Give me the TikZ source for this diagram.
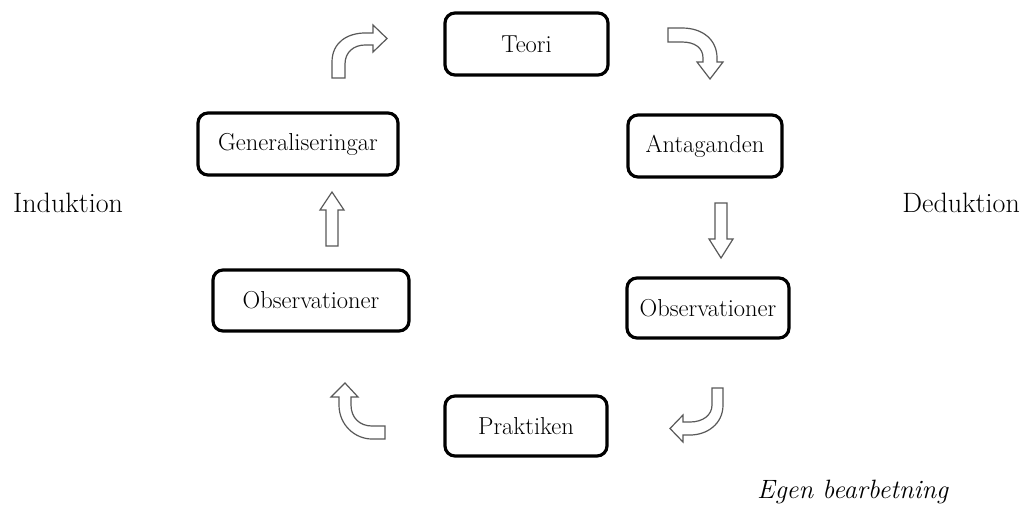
\documentclass[tikz,border=0pt]{standalone}
\begin{document}
\begin{tikzpicture}[x=1pt,y=-1pt,
  box/.style={draw=black, line width=3.2pt, rounded corners=10pt, fill=white,
    font=\fontsize{24.5}{28}\selectfont, inner sep=0pt},
  side/.style={font=\fontsize{28}{32}\selectfont, inner sep=0pt},
  barrow/.style={draw=black!65, line width=1.2pt, fill=white, line join=miter}]
\useasboundingbox (0,0) rectangle (1024,504);
\fill[white] (0,0) rectangle (1024,504);
% boxes
\node[box, minimum width=163pt, minimum height=62pt] (teori) at (526.5,44) {Teori};
\node[box, minimum width=154pt, minimum height=62pt] (antag) at (705,146) {Antaganden};
\node[box, minimum width=200pt, minimum height=62pt] (gen) at (298,144) {Generaliseringar};
\node[box, minimum width=196pt, minimum height=61pt] (obsl) at (311,300.5) {Observationer};
\node[box, minimum width=162pt, minimum height=60pt] (obsr) at (708,308) {Observationer};
\node[box, minimum width=162pt, minimum height=60pt] (prak) at (526,426) {Praktiken};
% side labels
\node[side, anchor=base west] (ind) at (13,212) {Induktion};
\node[side, anchor=base east] (ded) at (1020,212) {Deduktion};
\node[font=\fontsize{26.5}{30}\selectfont\itshape, inner sep=0pt, anchor=base west] (egen) at (757,498) {Egen bearbetning};
% block arrows
% top-left (Generaliseringar -> Teori)
\draw[barrow] (332,78) -- (332,62) .. controls (332,42) and (348,33) .. (365,33) -- (373,33) -- (373,25) -- (387,38.5) -- (373,52) -- (373,45) -- (365,45)
  .. controls (354,45) and (345,52) .. (345,64) -- (345,78) -- cycle;
% top-right (Teori -> Antaganden)
\draw[barrow] (668,28) -- (682,28) .. controls (703,28) and (717,40) .. (717,58) -- (717,62) -- (723,62) -- (710,79) -- (697,62) -- (703,62) -- (703,58)
  .. controls (703,48) and (695,42) .. (682,42) -- (668,42) -- cycle;
% down arrow right
\draw[barrow] (715,203) -- (727,203) -- (727,239) -- (733,239) -- (721,258) -- (709,239) -- (715,239) -- cycle;
% up arrow left
\draw[barrow] (326,246) -- (338,246) -- (338,210) -- (344,210) -- (332,192) -- (320,210) -- (326,210) -- cycle;
% bottom-right (Observationer -> Praktiken)
\draw[barrow] (712,388) -- (723,388) -- (723,405) .. controls (723,424) and (707,435) .. (690,435) -- (683,435) -- (683,442) -- (670,428.5) -- (683,415) -- (683,422) -- (690,422)
  .. controls (703,422) and (712,415) .. (712,405) -- cycle;
% bottom-left (Praktiken -> Observationer)
\draw[barrow] (385,426) -- (372,426) .. controls (360,426) and (351,418) .. (351,405) -- (351,397) -- (358,397) -- (345,383) -- (331,397) -- (339,397) -- (339,405)
  .. controls (339,425) and (355,439) .. (372,439) -- (385,439) -- cycle;
\end{tikzpicture}
\end{document}
